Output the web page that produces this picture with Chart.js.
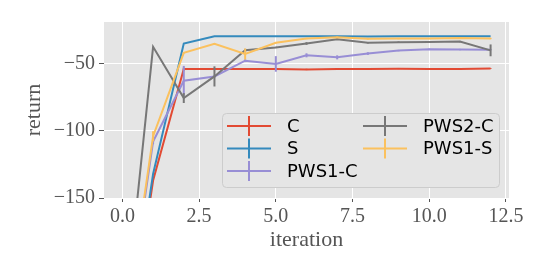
<!DOCTYPE html>
<html>
<head>
<meta charset="utf-8">
<script src="https://cdn.jsdelivr.net/npm/chart.js@4.4.1/dist/chart.umd.min.js"></script>
<style>
html, body { margin: 0; padding: 0; background: #fff; }
</style>
</head>
<body>
<canvas id="chart" width="548" height="274"></canvas>
<script>
// data
const iterations = [0, 1, 2, 3, 4, 5, 6, 7, 8, 9, 10, 11, 12];
const seriesNames = ['C', 'S', 'PWS1-C', 'PWS2-C', 'PWS1-S'];

const cReturn     = [-290, -137, -54, -54, -54, -54, -54.3, -54, -54, -53.8, -54, -54, -53.7];
const cErr        = [0, 0, 1, 0.5, 0.5, 0.5, 0.5, 0.3, 0.3, 0.3, 0.3, 0.3, 0.3];
const sReturn     = [-285, -132, -35, -29.6, -29.6, -29.6, -29.6, -29.6, -29.7, -29.6, -29.6, -29.6, -29.6];
const sErr        = [0, 0, 0, 0, 0, 0, 0, 0, 0, 0, 0, 0, 0];
const pws1cReturn = [-265, -108, -62.7, -59.5, -47.8, -50.2, -43.8, -45.3, -42.5, -40.3, -39.3, -39.5, -39.6];
const pws1cErr    = [0, 2, 11, 1, 1, 5.8, 1.5, 1.5, 1, 0.5, 0.5, 0.5, 0.5];
const pws2cReturn = [-258, -37.5, -75.6, -59.5, -40, -37.9, -35, -31.8, -34.5, -34, -33.8, -33.6, -40.1];
const pws2cErr    = [0, 0, 3.7, 7.5, 1, 0.5, 1, 0.5, 0.5, 0.5, 0.5, 0.5, 4.4];
const pws1sReturn = [-262, -104, -42, -35.3, -42.8, -34.5, -31.3, -30.4, -31.5, -31.3, -31.3, -31, -31.3];
const pws1sErr    = [0, 3.7, 0.5, 0.5, 4.1, 0.5, 0.5, 0.5, 0.5, 0.5, 0.5, 0.5, 0.5];

const xTicks = [0, 2.5, 5, 7.5, 10, 12.5];
const yTicks = [-150, -100, -50];

const colors = ['#E24A33', '#348ABD', '#988ED5', '#777777', '#FBC15E'];
const allReturns = [cReturn, sReturn, pws1cReturn, pws2cReturn, pws1sReturn];
const allErrs = [cErr, sErr, pws1cErr, pws2cErr, pws1sErr];

const datasets = seriesNames.map((name, i) => ({
  label: name,
  data: iterations.map((x, j) => ({ x: x, y: allReturns[i][j] })),
  errors: allErrs[i],
  borderColor: colors[i],
  backgroundColor: colors[i],
  borderWidth: 2,
  pointRadius: 0,
  tension: 0,
  order: seriesNames.length - i
}));

const serif = "'Liberation Serif', 'DejaVu Serif', serif";
const tickGrey = '#555555';

// grey panel behind the plot
const panelBg = {
  id: 'panelBg',
  beforeDraw(chart) {
    const { ctx, chartArea: a } = chart;
    ctx.save();
    ctx.fillStyle = '#E5E5E5';
    ctx.fillRect(a.left, a.top, a.right - a.left, a.bottom - a.top);
    ctx.restore();
  }
};

// vertical error bars, drawn with each series
const errorBars = {
  id: 'errorBars',
  afterDatasetDraw(chart, args) {
    const ds = chart.data.datasets[args.index];
    const { ctx, chartArea: a } = chart;
    const xs = chart.scales.x, ys = chart.scales.y;
    ctx.save();
    ctx.beginPath();
    ctx.rect(a.left, a.top, a.right - a.left, a.bottom - a.top);
    ctx.clip();
    ctx.strokeStyle = ds.borderColor;
    ctx.lineWidth = 2;
    ds.data.forEach((p, j) => {
      const e = ds.errors[j];
      if (!e) return;
      const px = xs.getPixelForValue(p.x);
      ctx.beginPath();
      ctx.moveTo(px, ys.getPixelForValue(p.y - e));
      ctx.lineTo(px, ys.getPixelForValue(p.y + e));
      ctx.stroke();
    });
    ctx.restore();
  }
};

// two-column legend, filled column first like matplotlib
const colLegend = {
  id: 'colLegend',
  afterDraw(chart) {
    const { ctx, chartArea: a } = chart;
    const items = chart.data.datasets;
    const boxR = a.right - 10, boxB = a.bottom - 11;
    const boxL = boxR - 277, boxT = boxB - 74;
    ctx.save();
    ctx.fillStyle = '#E5E5E5';
    ctx.strokeStyle = '#CCCCCC';
    ctx.lineWidth = 1;
    ctx.beginPath();
    ctx.roundRect(boxL + 0.5, boxT + 0.5, boxR - boxL, boxB - boxT, 4);
    ctx.fill();
    ctx.stroke();
    ctx.font = "18px 'DejaVu Sans', sans-serif";
    ctx.textBaseline = 'middle';
    ctx.fillStyle = '#000';
    const rows = 3;
    items.forEach((ds, i) => {
      const col = Math.floor(i / rows), row = i % rows;
      const hx = boxL + 5 + col * 136;
      const hy = boxT + 13 + row * 22.5;
      ctx.strokeStyle = ds.borderColor;
      ctx.lineWidth = 2;
      ctx.beginPath();
      ctx.moveTo(hx, hy);
      ctx.lineTo(hx + 44, hy);
      ctx.moveTo(hx + 22, hy - 10);
      ctx.lineTo(hx + 22, hy + 10);
      ctx.stroke();
      ctx.fillText(ds.label, hx + 60, hy + 1);
    });
    ctx.restore();
  }
};

new Chart(document.getElementById('chart').getContext('2d'), {
  type: 'line',
  data: { datasets: datasets },
  plugins: [panelBg, errorBars, colLegend],
  options: {
    responsive: false,
    animation: false,
    devicePixelRatio: 1,
    layout: { padding: { top: 22, right: 39, left: 0, bottom: 0 } },
    plugins: { legend: { display: false }, tooltip: { enabled: false } },
    scales: {
      x: {
        type: 'linear',
        min: -0.6,
        max: 12.6,
        afterBuildTicks(scale) { scale.ticks = xTicks.map(v => ({ value: v })); },
        afterFit(scale) { scale.height = 76; },
        border: { display: false },
        grid: { color: '#FFFFFF', lineWidth: 1, tickColor: tickGrey, tickLength: 4 },
        ticks: {
          color: tickGrey,
          font: { family: serif, size: 20 },
          padding: 3,
          maxRotation: 0,
          callback: v => v.toFixed(1)
        },
        title: {
          display: true,
          text: 'iteration',
          color: tickGrey,
          font: { family: serif, size: 22 },
          padding: { top: 0, bottom: 21 }
        }
      },
      y: {
        min: -150,
        max: -19,
        afterBuildTicks(scale) { scale.ticks = yTicks.map(v => ({ value: v })); },
        afterFit(scale) { scale.width = 104; },
        border: { display: false },
        grid: { color: '#FFFFFF', lineWidth: 1, tickColor: tickGrey, tickLength: 5 },
        ticks: {
          color: tickGrey,
          font: { family: serif, size: 20 },
          padding: 4,
          callback: v => '\u2212' + Math.abs(v)
        },
        title: {
          display: true,
          text: 'return',
          color: tickGrey,
          font: { family: serif, size: 22 },
          padding: { top: 21, bottom: 0 }
        }
      }
    }
  }
});
</script>
</body>
</html>
